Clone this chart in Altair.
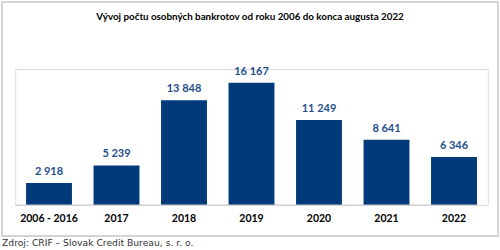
import altair as alt
import pandas as pd

categories = ["2006 - 2016", "2017", "2018", "2019", "2020", "2021", "2022"]
values = [2918, 5239, 13848, 16167, 11249, 8641, 6346]
labels = ["2 918", "5 239", "13 848", "16 167", "11 249", "8 641", "6 346"]

title_text = "Vývoj počtu osobných bankrotov od roku 2006 do konca augusta 2022"
source_text = "Zdroj: CRIF – Slovak Credit Bureau, s. r. o."

df = pd.DataFrame({"cat": categories, "val": values, "lab": labels})

W, H = 472.5, 136
PL, PT = 15.25, 69

x = alt.X("cat:N", sort=categories,
          scale=alt.Scale(paddingInner=0.32, paddingOuter=0.16),
          axis=alt.Axis(title=None, labelAngle=0, domain=False, ticks=False,
                        labelFont="Lato", labelFontWeight="bold", labelFontSize=10.5,
                        labelColor="#000000", labelPadding=8, zindex=2))
y = alt.Y("val:Q", scale=alt.Scale(domain=[0, 18000], nice=False), axis=None)

base = alt.Chart(df)

border = alt.Chart(pd.DataFrame({"a": [0]})).mark_rect(
    fill="transparent", stroke="#c6c6c6", strokeWidth=1.5
).encode(x=alt.value(2 - PL), x2=alt.value(498 - PL),
         y=alt.value(2 - PT), y2=alt.value(236 - PT))

bars = base.mark_bar(color="#003A7A").encode(x=x, y=y)

txt = base.mark_text(dy=-11, font="Lato", fontWeight="bold", fontSize=11,
                     color="#1F4E8C").encode(x=x, y=y, text="lab:N")

axis_line = alt.Chart(pd.DataFrame({"a": [0]})).mark_rule(
    color="#c8c8c8", strokeWidth=1
).encode(x=alt.value(15 - PL), x2=alt.value(478 - PL), y=alt.value(H))

title = alt.Chart(pd.DataFrame({"t": [title_text]})).mark_text(
    font="Lato", fontWeight="bold", fontSize=9.8, color="#000000", align="center"
).encode(x=alt.value(250 - PL), y=alt.value(17 - PT), text="t:N")

source = alt.Chart(pd.DataFrame({"t": [source_text]})).mark_text(
    font="DejaVu Sans", fontSize=9.2, color="#333333", align="left"
).encode(x=alt.value(2 - PL), y=alt.value(243 - PT), text="t:N")

chart = alt.layer(border, bars, txt, axis_line, title, source).properties(
    width=W, height=H,
    autosize=alt.AutoSizeParams(type="none"),
    padding={"left": PL, "top": PT, "right": 500 - PL - W, "bottom": 250 - PT - H},
).configure_view(stroke=None).configure(background="white")

chart.save("out.html", embed_options={"renderer": "svg", "actions": False})
